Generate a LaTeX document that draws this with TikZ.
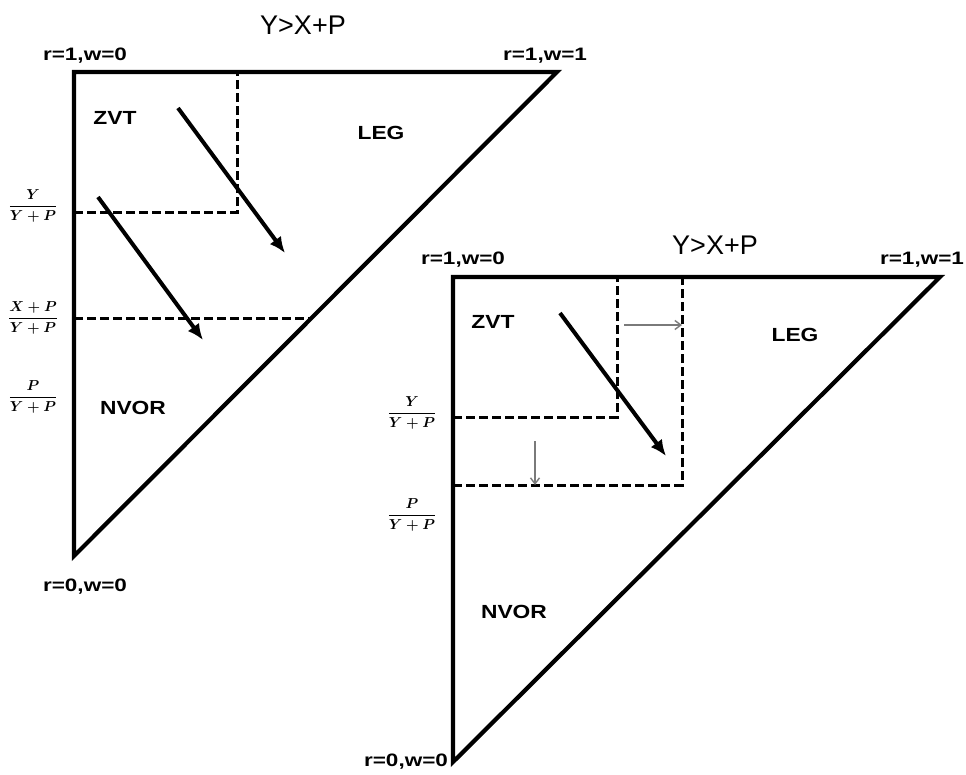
\documentclass[tikz,border=0pt]{standalone}
\usepackage{fontspec}
\setmainfont{Liberation Sans}
\usetikzlibrary{arrows.meta}
\definecolor{shiftgray}{HTML}{7A7A7A}
\tikzset{
  tri/.style={line width=4.2pt,line join=miter},
  guide/.style={line width=3pt,dash pattern=on 9pt off 4pt},
  move/.style={line width=4pt,-{Latex[length=16pt,width=14pt]}},
  nudge/.style={shiftgray,line width=1.4pt,-{Straight Barb[length=6pt,width=9pt]}},
  corner/.style={inner sep=0pt,xscale=1.25,font=\fontsize{18}{20}\selectfont\bfseries},
  region/.style={inner sep=0pt,xscale=1.2,font=\fontsize{19}{22}\selectfont\bfseries},
  ratio/.style={inner sep=0pt,font=\fontsize{14}{16}\selectfont\boldmath},
  heading/.style={inner sep=0pt,font=\fontsize{27}{30}\selectfont}
}
\begin{document}
\begin{tikzpicture}[x=1pt,y=-1pt]
\useasboundingbox (0,0) rectangle (966,774);
% left triangle
\coordinate (la) at (74,72); \coordinate (lb) at (557,72); \coordinate (lc) at (74,556);
\draw[tri] (la) -- (lb) -- (lc) -- cycle;
\draw[guide] (74,212) -| (237,72);
\draw[guide] (74,318) -- (312,318);
\coordinate (l1s) at (178,108); \coordinate (l1e) at (285,253);
\coordinate (l2s) at (98,197); \coordinate (l2e) at (203,340);
\draw[move] (l1s) -- (l1e);
\draw[move] (l2s) -- (l2e);
\node[heading] (ltitle) at (303,25) {Y>X+P};
\node[corner] (lr1w0) at (85,56) {r=1,w=0};
\node[corner] (lr1w1) at (545,56) {r=1,w=1};
\node[corner] (lr0w0) at (85,587) {r=0,w=0};
\node[region] (lzvt) at (115,118) {ZVT};
\node[region] (lleg) at (381,133) {LEG};
\node[region] (lnvor) at (133,408) {NVOR};
\node[ratio] (lq1) at (33,206) {$\displaystyle\frac{Y}{Y+P}$};
\node[ratio] (lq2) at (33,318) {$\displaystyle\frac{X+P}{Y+P}$};
\node[ratio] (lq3) at (33,397) {$\displaystyle\frac{P}{Y+P}$};
% right triangle
\coordinate (ra) at (453,277); \coordinate (rb) at (940,277); \coordinate (rc) at (453,762);
\draw[tri] (ra) -- (rb) -- (rc) -- cycle;
\draw[guide] (453,417) -| (617,277);
\draw[guide] (453,485) -| (682,277);
\coordinate (r1s) at (560,313); \coordinate (r1e) at (666,456);
\draw[move] (r1s) -- (r1e);
\coordinate (h1s) at (624,325); \coordinate (h1e) at (682,325);
\coordinate (v1s) at (535,441); \coordinate (v1e) at (535,485);
\draw[nudge] (h1s) -- (h1e);
\draw[nudge] (v1s) -- (v1e);
\node[heading] (rtitle) at (715,245) {Y>X+P};
\node[corner] (rr1w0) at (463,260) {r=1,w=0};
\node[corner] (rr1w1) at (922,260) {r=1,w=1};
\node[corner] (rr0w0) at (406,762) {r=0,w=0};
\node[region] (rzvt) at (493,322) {ZVT};
\node[region] (rleg) at (795,335) {LEG};
\node[region] (rnvor) at (514,612) {NVOR};
\node[ratio] (rq1) at (412,413) {$\displaystyle\frac{Y}{Y+P}$};
\node[ratio] (rq2) at (412,515) {$\displaystyle\frac{P}{Y+P}$};
\end{tikzpicture}
\end{document}
